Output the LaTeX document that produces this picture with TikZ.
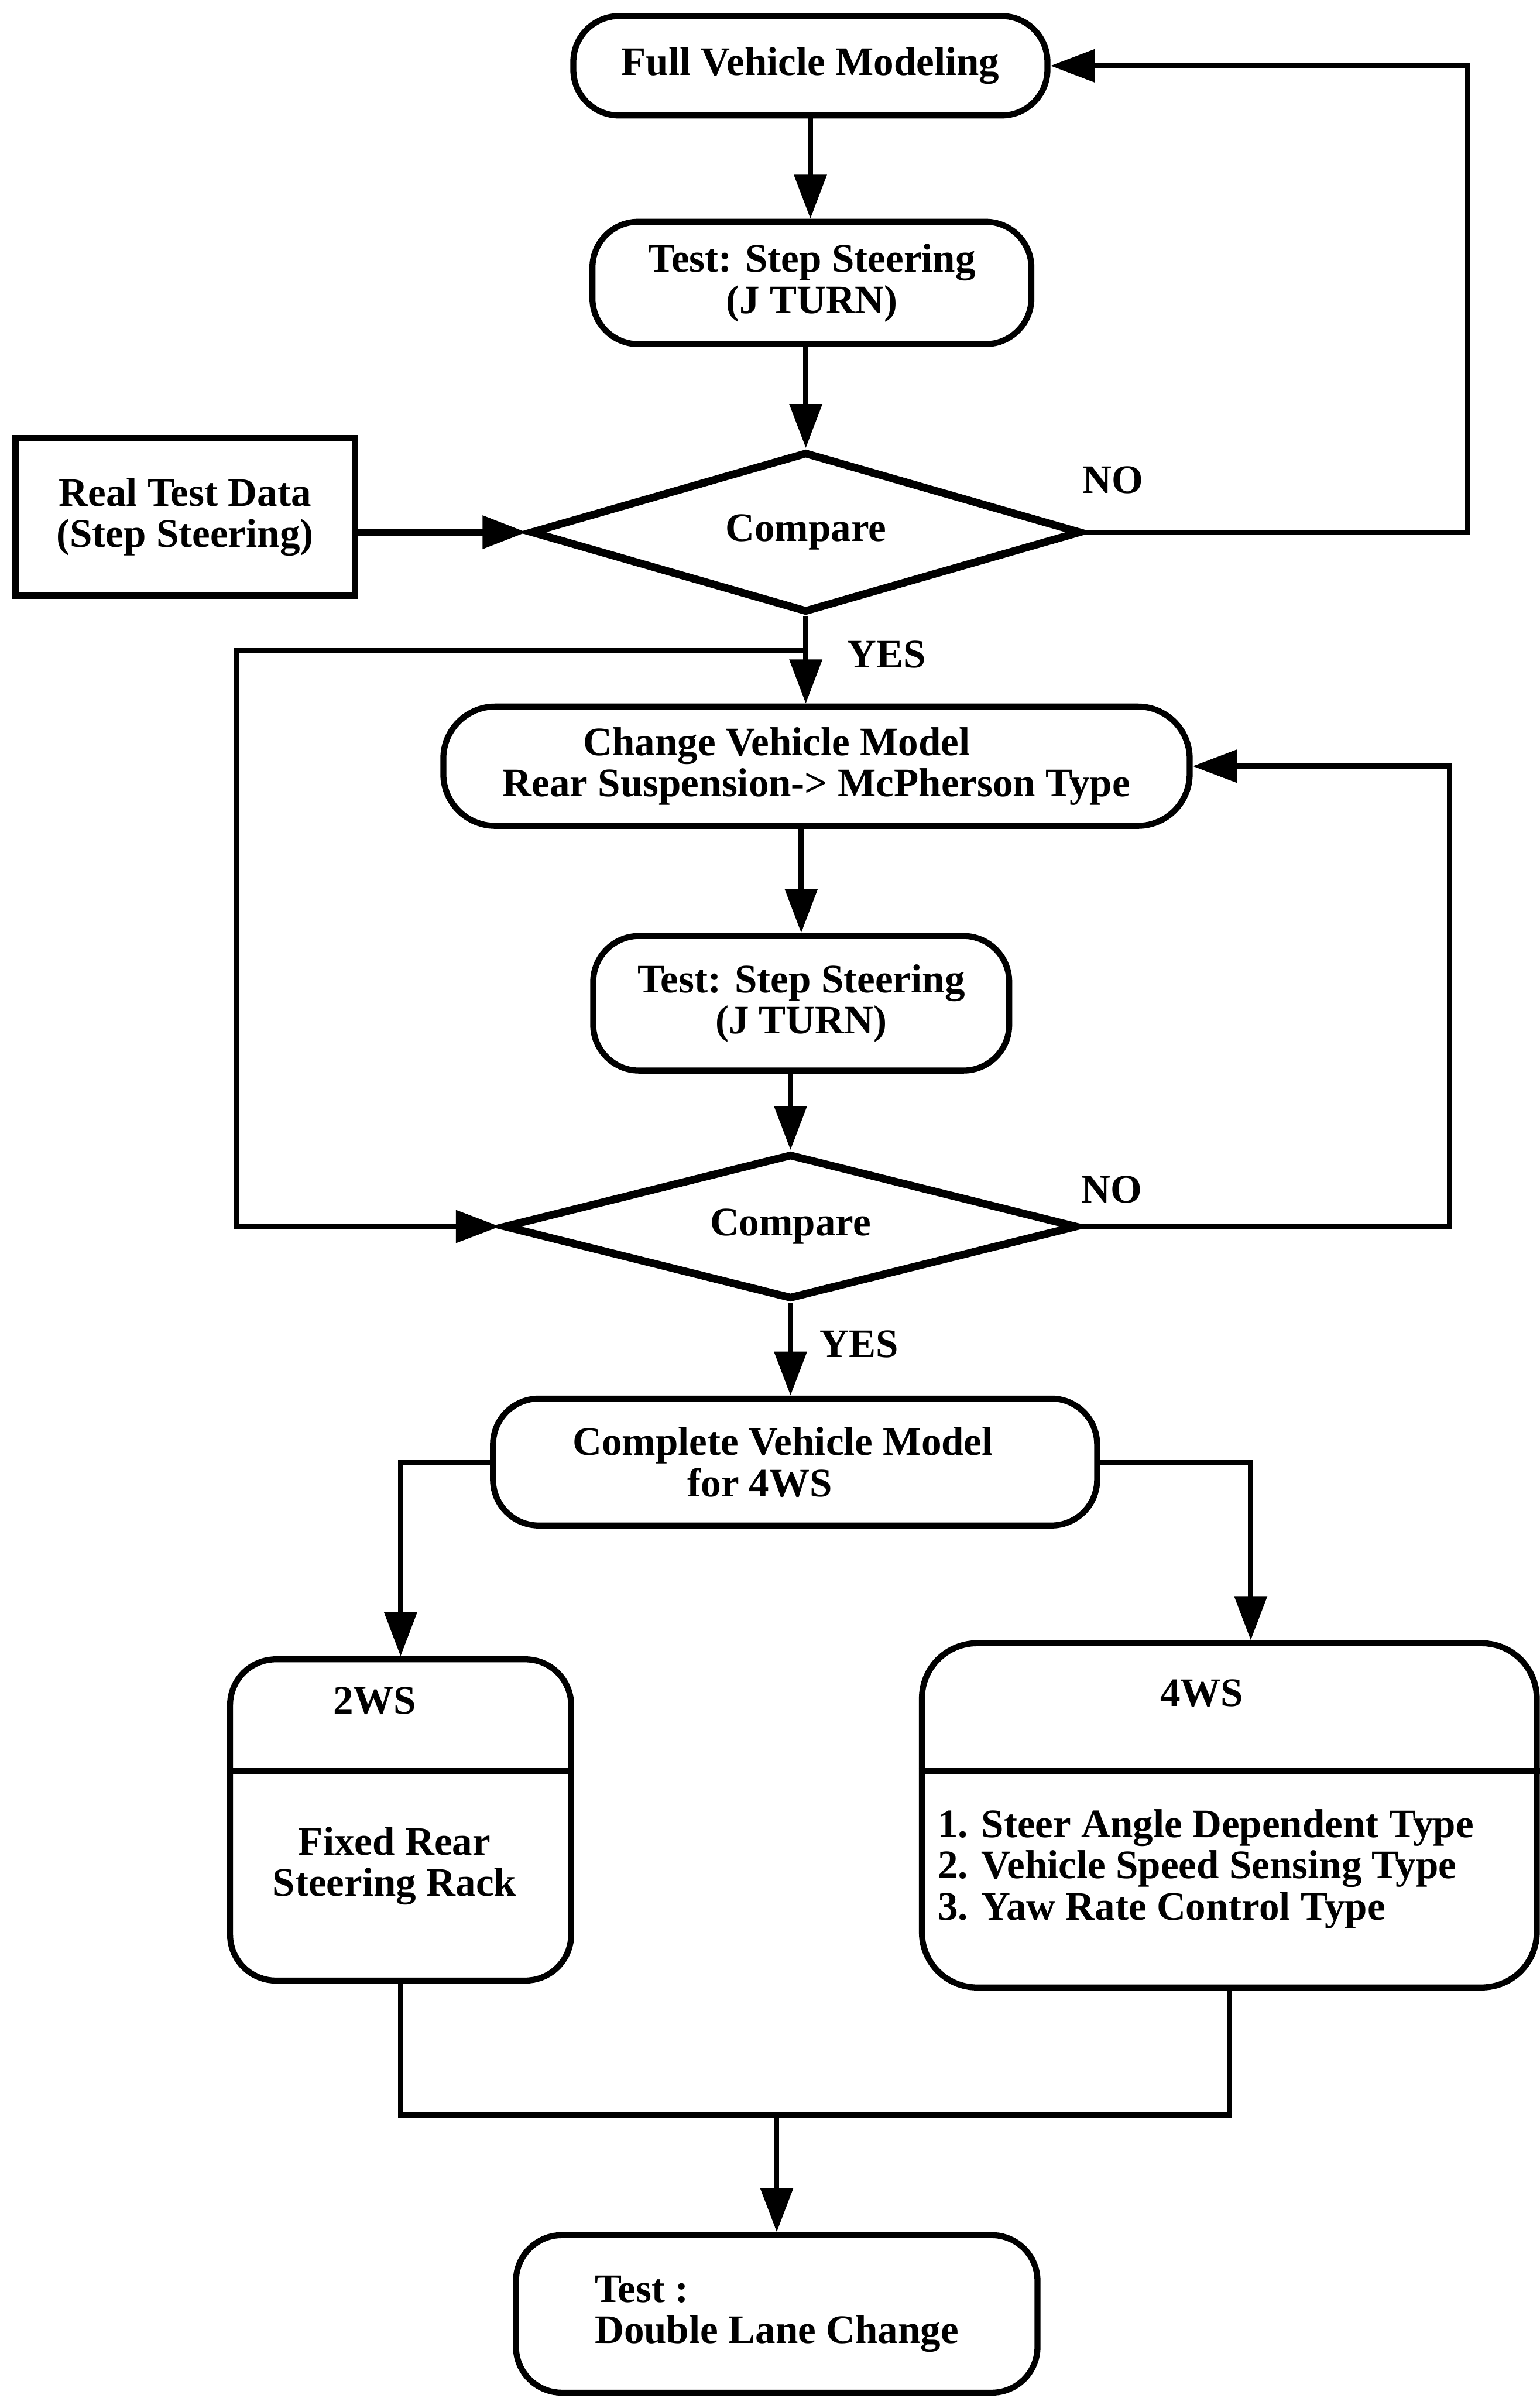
\documentclass[tikz,border=0pt]{standalone}
\usepackage{fontspec}
\setmainfont{Liberation Serif}
\usetikzlibrary{arrows.meta,shapes.geometric,calc}
\begin{document}
\begin{tikzpicture}[x=0.025cm,y=-0.025cm,
  every node/.style={font=\bfseries\fontsize{18.8}{19.2}\selectfont},
  rbox/.style={draw, line width=2.8pt, rounded corners=0.75cm, inner sep=0pt, align=center},
  sbox/.style={draw, line width=3pt, inner sep=0pt, align=center},
  dia/.style={draw, diamond, shape aspect=3.4, line width=3.6pt, inner sep=0pt},
  conn/.style={line width=2.4pt},
  arr/.style={conn, -{Triangle[length=0.72cm,width=0.52cm]}},
  lbl/.style={inner sep=0pt}
]
\useasboundingbox (0,0) rectangle (1007,1568);

% nodes
\node[rbox, minimum width=7.75cm, minimum height=1.625cm] (full) at (530,43) {Full Vehicle Modeling};
\node[rbox, minimum width=7.175cm, minimum height=2cm] (test1) at (531,185) {Test: Step Steering\\(J TURN)};
\node[dia, minimum width=9cm, minimum height=2.625cm] (dia1) at (527,348) {Compare};
\node[sbox, minimum width=5.55cm, minimum height=2.575cm] (real) at (121,338) {Real Test Data\\(Step Steering)};
\node[rbox, rounded corners=0.85cm, minimum width=12.2cm, minimum height=1.95cm] (change) at (534,501) {Change Vehicle Model\hspace*{1.3cm}\\Rear Suspension-> McPherson Type};
\node[rbox, minimum width=6.8cm, minimum height=2.2cm] (test2) at (524,656) {Test: Step Steering\\(J TURN)};
\node[dia, minimum width=9.375cm, minimum height=2.375cm] (dia2) at (517,802) {Compare};
\node[rbox, minimum width=9.875cm, minimum height=2.075cm] (complete) at (520,956) {Complete Vehicle Model\hspace*{0.4cm}\\for 4WS\hspace*{1.15cm}};
\node[rbox, minimum width=5.575cm, minimum height=5.25cm] (ws2) at (262,1190) {};
\node[rbox, rounded corners=0.9cm, minimum width=10.05cm, minimum height=5.625cm] (ws4) at (804,1187) {};
\node[rbox, minimum width=8.525cm, minimum height=2.575cm, align=left] (dlc) at (508,1513) {Test :\\Double Lane Change};

% compartments
\draw[line width=2.8pt] (ws2.west |- 0,1158) -- (ws2.east |- 0,1158);
\draw[line width=2.8pt] (ws4.west |- 0,1158) -- (ws4.east |- 0,1158);
\node[lbl] (ws2h) at (245,1112) {2WS};
\node[lbl, align=center] (ws2b) at (258,1220) {Fixed Rear\\Steering Rack};
\node[lbl] (ws4h) at (786,1107) {4WS};
\node[lbl, anchor=west, align=left] (ws4b) at (613,1222) {1. Steer Angle Dependent Type\\2. Vehicle Speed Sensing Type\\3. Yaw Rate Control Type};

% labels
\node[lbl] (no1) at (728,314) {NO};
\node[lbl] (yes1) at (580,428) {YES};
\node[lbl] (no2) at (727,778) {NO};
\node[lbl] (yes2) at (562,879) {YES};

% coordinates
\coordinate (r1) at (960,348);
\coordinate (j1) at (527,425);
\coordinate (l1) at (155,425);
\coordinate (r2) at (948,802);
\coordinate (m) at (508,1383);

% connectors
\draw[arr] (full.south) -- (full.south |- test1.north);
\draw[arr] (dia1.north |- test1.south) -- (dia1.north);
\draw[arr, line width=3.2pt] (real.east |- dia1.west) -- (dia1.west);
\draw[arr] (dia1.east) -- (r1) |- (full.east);
\draw[arr] (dia1.south) -- (dia1.south |- change.north);
\draw[arr] (j1) -- (l1) |- (dia2.west);
\draw[arr] (test2.north |- change.south) -- (test2.north);
\draw[arr] (dia2.north |- test2.south) -- (dia2.north);
\draw[arr] (dia2.east) -- (r2) |- (change.east);
\draw[arr] (dia2.south) -- (dia2.south |- complete.north);
\draw[arr] (complete.west) -| (ws2.north);
\draw[arr] (complete.east) -| ($(ws4.north)+(14,0)$);
\draw[conn] (ws2.south) |- (m) -| (ws4.south);
\draw[arr] (m) -- (m |- dlc.north);
\end{tikzpicture}
\end{document}
